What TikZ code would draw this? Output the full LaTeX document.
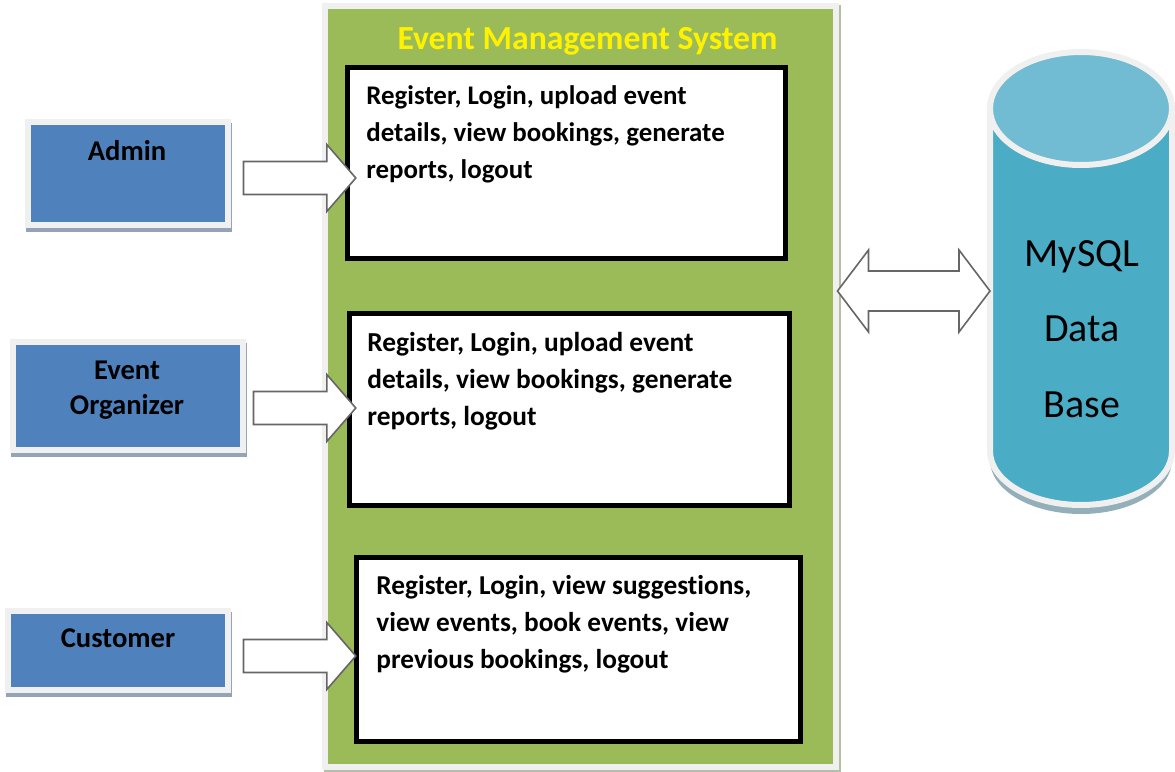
\documentclass[tikz,border=0pt]{standalone}
\usepackage{fontspec}
\setmainfont[Ligatures=NoCommon]{Carlito}
\usetikzlibrary{calc,shadows}
\definecolor{framegray}{HTML}{F0F0F0}
\definecolor{panelgreen}{HTML}{9BBB59}
\definecolor{panelshadow}{HTML}{B5BFA5}
\definecolor{actorblue}{HTML}{4F81BD}
\definecolor{actorshadow}{HTML}{94A3B5}
\definecolor{dbbody}{HTML}{4BACC6}
\definecolor{dbtop}{HTML}{71BCD2}
\definecolor{dbshadow}{HTML}{93B0BA}
\tikzset{
    panel/.style={rectangle,draw=framegray,line width=3pt,fill=panelgreen,minimum width=255.5pt,minimum height=380.5pt,general shadow={fill=panelshadow,draw=panelshadow,shadow xshift=1pt,shadow yshift=-1pt}},
    actor/.style={rectangle,draw=framegray,line width=3pt,fill=actorblue,general shadow={fill=actorshadow,draw=actorshadow,shadow xshift=0.5pt,shadow yshift=-2pt}},
    funcbox/.style={rectangle,draw=black,line width=2.5pt,fill=white},
    functext/.style={anchor=north west,align=left,inner sep=0pt},
    actortext/.style={align=center,inner sep=0pt,font=\fontsize{14.3}{17.5}\selectfont\bfseries},
    blockarrow/.style={draw=black!60,line width=0.8pt,fill=white,to path={let \p1=(\tikztostart),\p2=(\tikztotarget) in (\x1,\y1+8.25pt) -- (\x2-14.5pt,\y1+8.25pt) -- (\x2-14.5pt,\y1+16.75pt) -- (\x2,\y1) -- (\x2-14.5pt,\y1-16.75pt) -- (\x2-14.5pt,\y1-8.25pt) -- (\x1,\y1-8.25pt) -- cycle}},
    twowayarrow/.style={draw=black!60,line width=0.8pt,fill=white,to path={let \p1=(\tikztostart),\p2=(\tikztotarget) in (\x1,\y1) -- (\x1+15.5pt,\y1+20.5pt) -- (\x1+15.5pt,\y1+10pt) -- (\x2-15.5pt,\y1+10pt) -- (\x2-15.5pt,\y1+20.5pt) -- (\x2,\y1) -- (\x2-15.5pt,\y1-20.5pt) -- (\x2-15.5pt,\y1-10pt) -- (\x1+15.5pt,\y1-10pt) -- (\x1+15.5pt,\y1-20.5pt) -- cycle}}
}
\begin{document}
\begin{tikzpicture}[x=0.5pt,y=-0.5pt]
        \useasboundingbox (0,0) rectangle (1175,772);
        \node[panel] (panel) at (580.5,386) {};
        \node[inner sep=0pt,text=yellow,font=\fontsize{16.85}{20}\selectfont\bfseries] (title) at (587.5,41) {Event Management System};

        \node[funcbox,minimum width=219pt,minimum height=95.5pt] (boxa) at (566.5,163) {};
        \node[funcbox,minimum width=220pt,minimum height=96pt] (boxb) at (569.5,409.5) {};
        \node[funcbox,minimum width=221.75pt,minimum height=92pt] (boxc) at (578.25,649.5) {};
        \node[functext,font=\fontsize{13.45}{18.6}\selectfont\bfseries] (boxatext) at (366,85) {Register, Login, upload event\\details, view bookings, generate\\reports, logout};
        \node[functext,font=\fontsize{13.7}{18.5}\selectfont\bfseries] (boxbtext) at (367,332) {Register, Login, upload event\\details, view bookings, generate\\reports, logout};
        \node[functext,font=\fontsize{13.65}{18.6}\selectfont\bfseries] (boxctext) at (376,575) {Register, Login, view suggestions,\\view events, book events, view\\previous bookings, logout};

        \node[actor,minimum width=100pt,minimum height=51.5pt] (admin) at (128,173.5) {};
        \node[actortext] (admintext) at (127,151) {Admin};
        \node[actor,minimum width=115pt,minimum height=54pt] (organizer) at (128,396) {};
        \node[actortext] (organizertext) at (127,390) {Event\\Organizer};
        \node[actor,minimum width=110pt,minimum height=39.5pt] (customer) at (118,650.5) {};
        \node[actortext] (customertext) at (118,638) {Customer};

        \fill[dbshadow] (990,300) -- (990,460) arc[start angle=180,end angle=0,x radius=91,y radius=54] -- (1172,300) -- cycle;
        \draw[draw=framegray,fill=dbbody,line width=3pt] (990,109) -- (990,451) arc[start angle=180,end angle=0,x radius=91,y radius=54] -- (1172,109) arc[start angle=0,end angle=-180,x radius=91,y radius=56.5] -- cycle;
        \draw[draw=framegray,fill=dbtop,line width=3pt] (1081,108.5) ellipse [x radius=91,y radius=56.5];
        \node[align=center,inner sep=0pt,font=\fontsize{20}{37.75}\selectfont] (db) at (1082,329) {MySQL\\Data\\Base};
        \coordinate (dbleft) at (990,291);

        \draw[blockarrow] ([xshift=6.25pt,yshift=-2.25pt]admin.east) to ([xshift=5.4pt]boxa.west);
        \draw[blockarrow] ([xshift=3.75pt,yshift=-6pt]organizer.east) to ([xshift=4.4pt]boxb.west);
        \draw[blockarrow] ([xshift=6.25pt,yshift=-2.75pt]customer.east) to ([xshift=0.9pt]boxc.west);
        \draw[twowayarrow] ([xshift=-0.75pt,yshift=47.5pt]panel.east) to (dbleft);

    \end{tikzpicture}
\end{document}
